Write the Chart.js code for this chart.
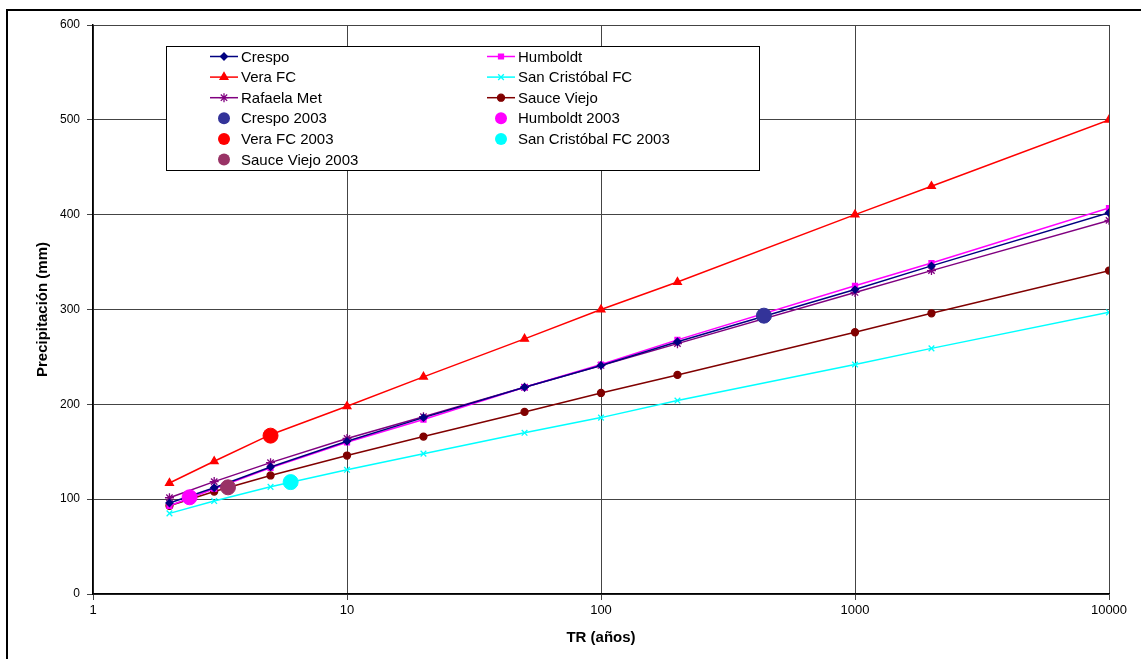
<!DOCTYPE html>
<html lang="es">
<head>
<meta charset="UTF-8">
<title>Precipitación vs TR</title>
<style>
  body { margin: 0; background: #fff; }
  canvas { display: block; }
</style>
<script src="https://cdn.jsdelivr.net/npm/chart.js"></script>
</head>
<body>
<canvas id="chart" width="1141" height="659"></canvas>
<script>
  // return periods (years) of the fitted curves
  const tr = [2, 3, 5, 10, 20, 50, 100, 200, 1000, 2000, 10000];

  const crespo = [96, 112, 134, 161, 186, 218, 241, 266, 321, 346, 402];
  const humboldt = [93, 111, 133, 160, 184, 218, 242, 268, 325, 349, 407];
  const veraFC = [117, 140, 168, 198, 229, 269, 300, 329, 400, 430, 500];
  const sanCristobal = [85, 98, 113, 131, 148, 170, 186, 204, 242, 259, 297];
  const rafaela = [101.5, 118.5, 138.5, 164, 187, 218, 241, 264, 318, 341, 394];
  const sauceViejo = [93, 108, 125, 146, 166, 192, 212, 231, 276, 296, 341];

  // 2003 events: [TR, mm]
  const crespo2003 = [438, 293.5];
  const humboldt2003 = [2.4, 102];
  const vera2003 = [5, 167];
  const sanCristobal2003 = [6, 118];
  const sauce2003 = [3.4, 112.5];

  const yTicks = [0, 100, 200, 300, 400, 500, 600];

  function pts(ys) { return tr.map((t, i) => ({ x: t, y: ys[i] })); }

  function curve(label, ys, color, style, r) {
    return {
      label: label, data: pts(ys), borderColor: color, backgroundColor: color,
      borderWidth: 1.5, pointStyle: style, pointRadius: r, pointBorderWidth: 1.3,
      pointBorderColor: color, pointBackgroundColor: color, tension: 0, order: 1
    };
  }
  function event(label, p, color) {
    return {
      label: label, data: [{ x: p[0], y: p[1] }], showLine: false,
      backgroundColor: color, borderColor: color, pointRadius: 7.5,
      pointStyle: 'circle', order: 0
    };
  }

  const datasets = [
    curve('Crespo', crespo, '#000080', 'rectRot', 3.5),
    curve('Humboldt', humboldt, '#FF00FF', 'rect', 3.5),
    curve('Vera FC', veraFC, '#FF0000', 'triangle', 4.5),
    curve('San Cristóbal FC', sanCristobal, '#00FFFF', 'crossRot', 4),
    curve('Rafaela Met', rafaela, '#800080', 'star', 4.5),
    curve('Sauce Viejo', sauceViejo, '#800000', 'circle', 3.5),
    event('Crespo 2003', crespo2003, '#333399'),
    event('Humboldt 2003', humboldt2003, '#FF00FF'),
    event('Vera FC 2003', vera2003, '#FF0000'),
    event('San Cristóbal FC 2003', sanCristobal2003, '#00FFFF'),
    event('Sauce Viejo 2003', sauce2003, '#993366')
  ];

  // outer frame + boxed two-column legend inside the plot
  const boxLegend = {
    id: 'boxLegend',
    beforeDraw(chart) {
      const ctx = chart.ctx;
      ctx.save();
      ctx.strokeStyle = '#000';
      ctx.lineWidth = 2;
      ctx.beginPath();
      ctx.moveTo(7, 659); ctx.lineTo(7, 10); ctx.lineTo(1141, 10);
      ctx.stroke();
      ctx.restore();
    },
    afterDraw(chart) {
      const ctx = chart.ctx;
      ctx.save();
      ctx.fillStyle = '#fff';
      ctx.fillRect(166, 46, 593, 124);
      ctx.strokeStyle = '#000';
      ctx.lineWidth = 1;
      ctx.strokeRect(166.5, 46.5, 593, 124);
      ctx.font = '15px Arial, "Liberation Sans", sans-serif';
      ctx.textBaseline = 'middle';
      chart.data.datasets.forEach((ds, i) => {
        const col = i % 2, row = Math.floor(i / 2);
        const cx = col === 0 ? 224 : 501;
        const cy = 56.5 + row * 20.6;
        ctx.strokeStyle = ds.borderColor;
        ctx.fillStyle = ds.backgroundColor;
        if (ds.showLine !== false) {
          ctx.lineWidth = 1.5;
          ctx.beginPath(); ctx.moveTo(cx - 14, cy); ctx.lineTo(cx + 14, cy); ctx.stroke();
          ctx.lineWidth = 1.3;
          Chart.helpers.drawPoint(ctx, { pointStyle: ds.pointStyle, radius: ds.pointRadius, rotation: 0, borderWidth: 1.3 }, cx, cy);
        } else {
          ctx.beginPath(); ctx.arc(cx, cy, 6, 0, Math.PI * 2); ctx.fill();
        }
        ctx.fillStyle = '#000';
        ctx.fillText(ds.label, cx + 17, cy + 1);
      });
      ctx.restore();
    }
  };

  new Chart(document.getElementById('chart'), {
    type: 'line',
    data: { datasets: datasets },
    plugins: [boxLegend],
    options: {
      responsive: false,
      animation: false,
      layout: { padding: { top: 25, right: 32, left: 0, bottom: 0 } },
      plugins: { legend: { display: false }, tooltip: { enabled: false } },
      scales: {
        x: {
          type: 'logarithmic', min: 1, max: 10000,
          afterBuildTicks: s => {
            s.ticks = s.ticks.filter(t => Math.abs(Math.log10(t.value) - Math.round(Math.log10(t.value))) < 1e-9);
          },
          afterFit: s => { s.height = 65; s.paddingLeft = 0; s.paddingRight = 0; },
          ticks: {
            autoSkip: false, maxRotation: 0, padding: 3, color: '#000',
            font: { family: 'Arial, "Liberation Sans", sans-serif', size: 13 },
            callback: v => String(v)
          },
          grid: { color: '#444', lineWidth: 1, tickLength: 6 },
          border: { color: '#000', width: 1.5 },
          title: {
            display: true, text: 'TR (años)', color: '#000',
            font: { family: 'Arial, "Liberation Sans", sans-serif', size: 15, weight: 'bold' },
            padding: { top: 0, bottom: 12 }
          }
        },
        y: {
          min: 0, max: 600,
          afterBuildTicks: s => { s.ticks = yTicks.map(v => ({ value: v })); },
          afterFit: s => { s.width = 93; s.paddingTop = 0; s.paddingBottom = 0; },
          ticks: {
            padding: 7, color: '#000',
            font: { family: 'Arial, "Liberation Sans", sans-serif', size: 12 }
          },
          grid: { color: '#444', lineWidth: 1, tickLength: 6 },
          border: { color: '#000', width: 1.5 },
          title: {
            display: true, text: 'Precipitación (mm)', color: '#000',
            font: { family: 'Arial, "Liberation Sans", sans-serif', size: 15, weight: 'bold' },
            padding: { top: 34, bottom: 0 }
          }
        }
      }
    }
  });
</script>
</body>
</html>
